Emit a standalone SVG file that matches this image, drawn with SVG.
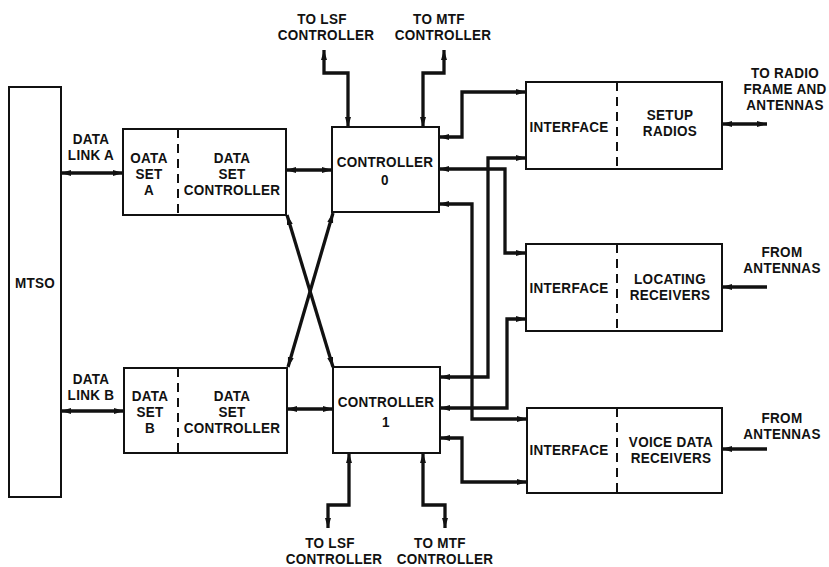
<svg xmlns="http://www.w3.org/2000/svg" width="829" height="567" viewBox="0 0 829 567">
<style>
.box{fill:#fff;stroke:#111;stroke-width:2}
.div{stroke:#111;stroke-width:2;stroke-dasharray:9 6;fill:none}
.t{font-family:"Liberation Sans",Arial,sans-serif;font-weight:bold;font-size:13.5px;letter-spacing:0.3px;fill:#111;text-anchor:middle;transform-box:fill-box;transform-origin:center;transform:scaleY(1.1)}
.c{fill:none;stroke:#111;stroke-width:3.3;stroke-linejoin:miter}
.b{marker-start:url(#ah);marker-end:url(#ah)}
.e{marker-end:url(#ah)}
</style>
<defs>
<marker id="ah" viewBox="0 0 10 8" refX="10" refY="4" markerWidth="10" markerHeight="8" markerUnits="userSpaceOnUse" orient="auto-start-reverse">
<path d="M0,1 L10,4 L0,7 z" fill="#111"/>
</marker>
</defs>
<rect width="829" height="567" fill="#fff"/>

<g id="connectors">
<polyline class="c b" points="61,173 123,173"/>
<polyline class="c b" points="61,411 124,411"/>
<polyline class="c b" points="286,170 332,170"/>
<polyline class="c b" points="287,409 333,409"/>
<polyline class="c b" points="287,215 333,367"/>
<polyline class="c b" points="333,213 288,367"/>
<polyline class="c b" points="348,127 348,73 324,73 324,50"/>
<polyline class="c b" points="423,127 423,73 444,73 444,50"/>
<polyline class="c b" points="349,453 349,505 328,505 328,528"/>
<polyline class="c b" points="423,453 423,505 445,505 445,528"/>
<polyline class="c b" points="439,137 462,137 462,92 526,92"/>
<polyline class="c b" points="439,169 505,169 505,253 526,253"/>
<polyline class="c b" points="439,204 472,204 472,419 527,419"/>
<polyline class="c b" points="440,377 488,377 488,158 526,158"/>
<polyline class="c b" points="440,408 507,408 507,319 526,319"/>
<polyline class="c b" points="440,438 462,438 462,482 527,482"/>
<polyline class="c b" points="722,124 767,124"/>
<polyline class="c e" points="767,287 722,287"/>
<polyline class="c e" points="767,449 722,449"/>
</g>

<g id="mtso">
<rect class="box" x="9" y="87" width="52" height="410"/>
<text class="t" x="35" y="288">MTSO</text>
</g>

<g id="label-link-a">
<text class="t" x="91" y="144">DATA</text>
<text class="t" x="91" y="160">LINK A</text>
</g>
<g id="label-link-b">
<text class="t" x="91" y="384">DATA</text>
<text class="t" x="91" y="400">LINK B</text>
</g>

<g id="dataset-a">
<rect class="box" x="123" y="129" width="163" height="86"/>
<line class="div" x1="178" y1="129" x2="178" y2="215"/>
<text class="t" x="149" y="163">OATA</text>
<text class="t" x="149" y="179">SET</text>
<text class="t" x="149" y="195">A</text>
<text class="t" x="232" y="163">DATA</text>
<text class="t" x="232" y="179">SET</text>
<text class="t" x="232" y="195">CONTROLLER</text>
</g>

<g id="dataset-b">
<rect class="box" x="124" y="368" width="163" height="85"/>
<line class="div" x1="178" y1="368" x2="178" y2="453"/>
<text class="t" x="150" y="401">DATA</text>
<text class="t" x="150" y="417">SET</text>
<text class="t" x="150" y="433">B</text>
<text class="t" x="232" y="401">DATA</text>
<text class="t" x="232" y="417">SET</text>
<text class="t" x="232" y="433">CONTROLLER</text>
</g>

<g id="controller-0">
<rect class="box" x="332" y="127" width="107" height="85"/>
<text class="t" x="385" y="167">CONTROLLER</text>
<text class="t" x="385" y="185">0</text>
</g>

<g id="controller-1">
<rect class="box" x="333" y="367" width="107" height="86"/>
<text class="t" x="386" y="407">CONTROLLER</text>
<text class="t" x="386" y="427">1</text>
</g>

<g id="setup-radios">
<rect class="box" x="526" y="82" width="196" height="87"/>
<line class="div" x1="617" y1="82" x2="617" y2="169"/>
<text class="t" x="569" y="132">INTERFACE</text>
<text class="t" x="670" y="120">SETUP</text>
<text class="t" x="670" y="136">RADIOS</text>
</g>

<g id="locating-receivers">
<rect class="box" x="526" y="244" width="196" height="87"/>
<line class="div" x1="617" y1="244" x2="617" y2="331"/>
<text class="t" x="569" y="293">INTERFACE</text>
<text class="t" x="670" y="284">LOCATING</text>
<text class="t" x="670" y="300">RECEIVERS</text>
</g>

<g id="voice-data-receivers">
<rect class="box" x="527" y="408" width="195" height="85"/>
<line class="div" x1="617" y1="408" x2="617" y2="493"/>
<text class="t" x="569" y="455">INTERFACE</text>
<text class="t" x="671" y="447">VOICE DATA</text>
<text class="t" x="671" y="463">RECEIVERS</text>
</g>

<g id="label-top-lsf">
<text class="t" x="322" y="24">TO LSF</text>
<text class="t" x="326" y="40">CONTROLLER</text>
</g>
<g id="label-top-mtf">
<text class="t" x="439" y="24">TO MTF</text>
<text class="t" x="443" y="40">CONTROLLER</text>
</g>
<g id="label-bottom-lsf">
<text class="t" x="330" y="548">TO LSF</text>
<text class="t" x="334" y="564">CONTROLLER</text>
</g>
<g id="label-bottom-mtf">
<text class="t" x="440" y="548">TO MTF</text>
<text class="t" x="445" y="564">CONTROLLER</text>
</g>

<g id="label-radio">
<text class="t" x="785" y="78">TO RADIO</text>
<text class="t" x="785" y="94">FRAME AND</text>
<text class="t" x="785" y="110">ANTENNAS</text>
</g>
<g id="label-antennas-1">
<text class="t" x="782" y="257">FROM</text>
<text class="t" x="782" y="273">ANTENNAS</text>
</g>
<g id="label-antennas-2">
<text class="t" x="782" y="423">FROM</text>
<text class="t" x="782" y="439">ANTENNAS</text>
</g>
</svg>
